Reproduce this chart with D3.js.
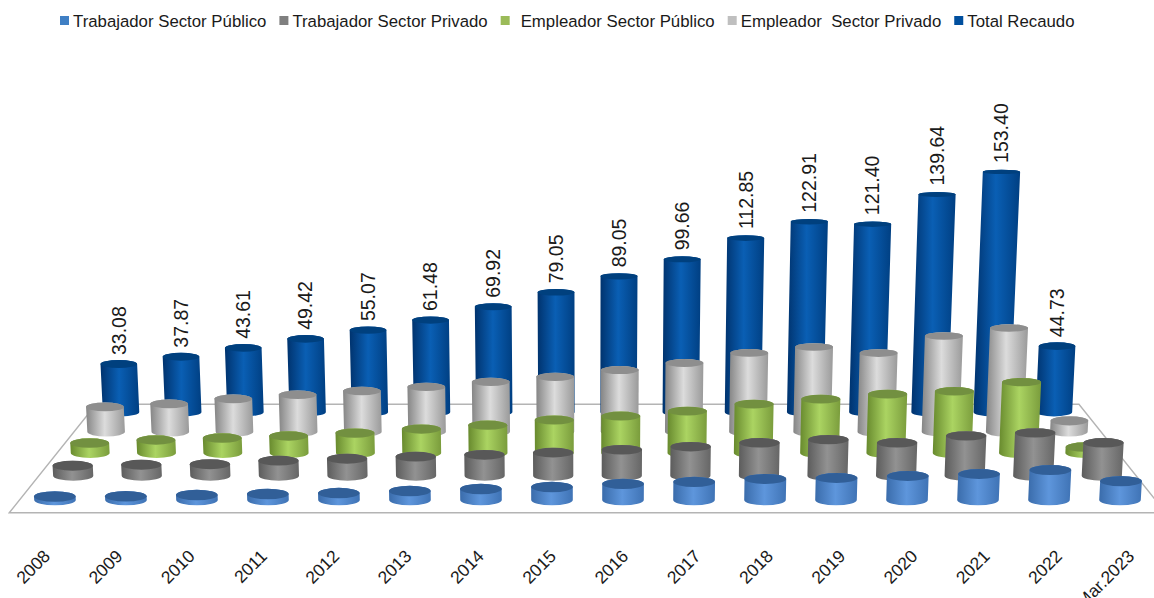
<!DOCTYPE html>
<html>
<head>
<meta charset="utf-8">
<script src="https://cdn.jsdelivr.net/npm/d3@7"></script>
<style>
  body { margin: 0; background: #fff; overflow: hidden; }
  svg { display: block; font-family: "Liberation Sans", Arial, sans-serif; fill: #1a1a1a; }
  .legend text { white-space: pre; }
</style>
</head>
<body>
<div id="chart"></div>
<script>
const categories = ["2008","2009","2010","2011","2012","2013","2014","2015","2016","2017","2018","2019","2020","2021","2022","Mar.2023"];
const seriesNames = ["Trabajador Sector Público","Trabajador Sector Privado","Empleador Sector Público","Empleador  Sector Privado","Total Recaudo"];
const trabajadorPublico = [2.4,2.6,3.4,4.0,4.6,5.9,7.2,8.4,10.3,11.5,13.3,13.9,15.1,16.3,18.6,12.0];
const trabajadorPrivado = [6.8,7.4,7.7,10.0,11.2,12.5,13.7,15.0,16.8,18.7,21.1,23.0,21.1,25.3,27.1,21.1];
const empleadorPublico = [7.0,9.0,10.3,11.6,13.5,16.1,18.6,21.8,24.3,27.4,31.8,34.8,37.9,39.7,45.2,4.3];
const empleadorPrivado = [17.2,19.2,22.5,25.1,27.6,30.2,33.4,36.6,40.9,45.3,51.6,55.3,51.5,62.1,67.0,7.9];
const totalRecaudo = [33.08,37.87,43.61,49.42,55.07,61.48,69.92,79.05,89.05,99.66,112.85,122.91,121.40,139.64,153.40,44.73];
const seriesValues = [trabajadorPublico, trabajadorPrivado, empleadorPublico, empleadorPrivado, totalRecaudo];
const legendColors = ["#3f7fc4","#7f7f7f","#9bbb59","#bfbfbf","#004f9e"];
// left edge, highlight, right edge, lid
const shades = [
  ["#3a6cab","#5e96dc","#3f73b5","#315f98"],
  ["#5c5c5c","#929292","#666666","#585858"],
  ["#688a2e","#abd462","#7a9c3c","#729040"],
  ["#858585","#dcdcdc","#9a9a9a","#8e8e8e"],
  ["#00336e","#0a5fb4","#003f82","#00407e"]
];

const width = 1154, height = 598;
const centerX = 587.5, horizonY = -210, floorDrop = 710;

const xScale = d3.scalePoint().domain(categories).range([-532.5, 532.5]);
const depthScale = d3.scalePoint().domain(seriesNames).range([0, 4]);
const heightScale = d3.scalePow().exponent(1.05).domain([0, 153.4]).range([0, 274]);
const flatScale = d3.scaleLinear().domain([172, 500]).range([2.2, 5.3]);
const spreadScale = d3.scaleLinear().domain([0, 240]).range([1, 1.024]);
const persp = z => 1 / (1 + 0.0354 * z);
const groundY = z => horizonY + floorDrop * persp(z);
const groundX = (wx, z) => centerX + wx * persp(z);

const svg = d3.select("#chart").append("svg")
  .attr("width", width)
  .attr("height", height)
  .attr("viewBox", `0 0 ${width} ${height}`);

const defs = svg.append("defs");
shades.forEach((s, i) => {
  const g = defs.append("linearGradient").attr("id", "cyl" + i);
  g.append("stop").attr("offset", "0%").attr("stop-color", s[0]);
  g.append("stop").attr("offset", "48%").attr("stop-color", s[1]);
  g.append("stop").attr("offset", "100%").attr("stop-color", s[2]);
});

// floor
const floorBack = 4.4, floorFront = -0.5, floorHalf = 568;
const floorCorners = [
  [groundX(-floorHalf, floorFront), groundY(floorFront)],
  [groundX(-floorHalf, floorBack), groundY(floorBack)],
  [groundX(floorHalf, floorBack), groundY(floorBack)],
  [groundX(floorHalf, floorFront), groundY(floorFront)]
];
svg.append("path")
  .attr("d", d3.line()(floorCorners) + "Z")
  .attr("fill", "none")
  .attr("stroke", "#b4b4b4")
  .attr("stroke-width", 1.4);

// cylinders, back row first
const rows = seriesNames.map((name, s) => ({ name, s, values: seriesValues[s] })).reverse();
const cylinders = rows.flatMap(row => row.values.map((v, c) => {
  const z = depthScale(row.name);
  const p = persp(z);
  const wx = xScale(categories[c]);
  const xb = groundX(wx, z);
  const yb = groundY(z);
  const h = heightScale(v) * p;
  const spread = spreadScale(h);
  const xt = centerX + (xb - centerX) * spread;
  const yt = yb - h;
  const rb = 20.8 * p;
  const rt = rb * spread;
  return { s: row.s, v, xb, yb, xt, yt, rb, rt, ryb: flatScale(yb), ryt: flatScale(yt) };
}));

const cyl = svg.append("g").selectAll("g")
  .data(cylinders)
  .enter()
  .append("g");

cyl.append("path")
  .attr("fill", d => `url(#cyl${d.s})`)
  .attr("d", d => `M${d.xt - d.rt},${d.yt}L${d.xb - d.rb},${d.yb}`
    + `A${d.rb},${d.ryb} 0 0 0 ${d.xb + d.rb},${d.yb}`
    + `L${d.xt + d.rt},${d.yt}`
    + `A${d.rt},${d.ryt} 0 0 0 ${d.xt - d.rt},${d.yt}Z`);

cyl.append("ellipse")
  .attr("cx", d => d.xt)
  .attr("cy", d => d.yt)
  .attr("rx", d => d.rt)
  .attr("ry", d => d.ryt)
  .attr("fill", d => shades[d.s][3]);

// value labels on the total row
svg.append("g").selectAll("text")
  .data(cylinders.filter(d => d.s === 4))
  .enter()
  .append("text")
  .attr("transform", d => `translate(${d.xt},${d.yt - 9}) rotate(-90)`)
  .attr("dy", "0.35em")
  .attr("font-size", 19.5)
  .text(d => d.v.toFixed(2));

// category axis
const axisScale = d3.scalePoint().domain(categories)
  .range([groundX(-532.5, floorFront), groundX(532.5, floorFront)]);
const gX = svg.append("g")
  .attr("transform", `translate(1,553)`)
  .call(d3.axisBottom(axisScale).tickSize(0));
gX.select(".domain").remove();
gX.selectAll("text")
  .attr("x", 0)
  .attr("y", 0)
  .attr("dy", "0.35em")
  .attr("text-anchor", "end")
  .attr("transform", "rotate(-45)")
  .attr("fill", "#1a1a1a")
  .style("font-family", "inherit")
  .style("font-size", "17.5px");

// legend, laid out from the measured text
const legend = svg.append("g").attr("class", "legend");
let legendX = 60;
seriesNames.forEach((name, i) => {
  const swatchGap = i === 2 ? 20 : 13;
  legend.append("rect")
    .attr("x", legendX).attr("y", 16)
    .attr("width", 9).attr("height", 9)
    .attr("fill", legendColors[i]);
  const t = legend.append("text")
    .attr("x", legendX + swatchGap).attr("y", 26.5)
    .attr("font-size", 16.8)
    .text(name);
  legendX += swatchGap + t.node().getComputedTextLength() + 13;
});
</script>
</body>
</html>
